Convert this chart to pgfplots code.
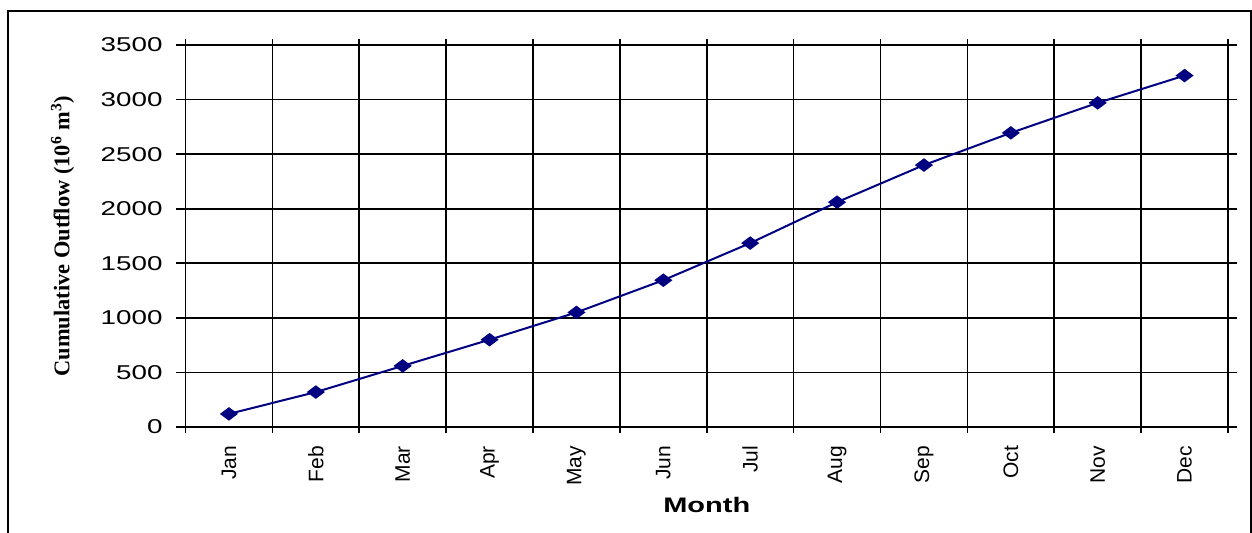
\documentclass[border=0pt]{standalone}
\usepackage{pgfplots}
\pgfplotsset{compat=1.18}
\usepackage{fontspec}
\setmainfont{Liberation Sans}
\newfontfamily\timesfont{Liberation Serif}
\definecolor{navy}{RGB}{0,0,128}
\begin{document}
\begin{tikzpicture}
\useasboundingbox (0,0) rectangle (626pt,266pt);
\draw[line width=1pt] (4pt,-2pt) -- (4pt,260.5pt) -- (625.5pt,260.5pt) -- (625.5pt,-2pt);
\begin{axis}[
  at={(92.75pt,52.5pt)}, anchor=south west,
  scale only axis, width=521.25pt, height=191pt,
  xmin=-0.5, xmax=11.5, ymin=0, ymax=3500,
  ytick={0,500,...,3500},
  xtick={0,...,11},
  xticklabels={Jan,Feb,Mar,Apr,May,Jun,Jul,Aug,Sep,Oct,Nov,Dec},
  minor xtick={-0.5,0.5,...,11.5},
  major x tick style={draw=none},
  xminorgrids=true, ymajorgrids=true,
  grid style={black, line width=0.85pt},
  minor grid style={black, line width=0.85pt},
  axis line style={black, line width=0.9pt},
  tick style={black, line width=0.85pt},
  tick align=outside,
  major tick length=4.5pt, minor tick length=3pt,
  xticklabel style={rotate=90, anchor=east, font=\fontsize{10.5}{12}\selectfont, xshift=-1.5pt},
  yticklabel style={font=\fontsize{10}{12}\selectfont, xscale=1.39, xshift=-1.5pt},
  /pgf/number format/assume math mode=true,
  /pgf/number format/1000 sep={},
  xlabel={\bfseries Month},
  xlabel style={font=\fontsize{10.5}{13}\selectfont, xscale=1.38, yshift=1pt},
  ylabel={\timesfont\bfseries Cumulative Outflow (10\textsuperscript{6} m\textsuperscript{3})},
  ylabel style={font=\fontsize{11.2}{13}\selectfont, at={(rel axis cs:0,0.5)}, anchor=center, yshift=61.5pt},
  clip=false,
]
\addplot[navy, line width=1pt, mark=diamond*, mark size=3.7pt, mark options={fill=navy, rotate=90}]
coordinates {(0,120) (1,320) (2,560) (3,800) (4,1050) (5,1345) (6,1685) (7,2060) (8,2400) (9,2695) (10,2970) (11,3220)};
\end{axis}
\end{tikzpicture}
\end{document}
